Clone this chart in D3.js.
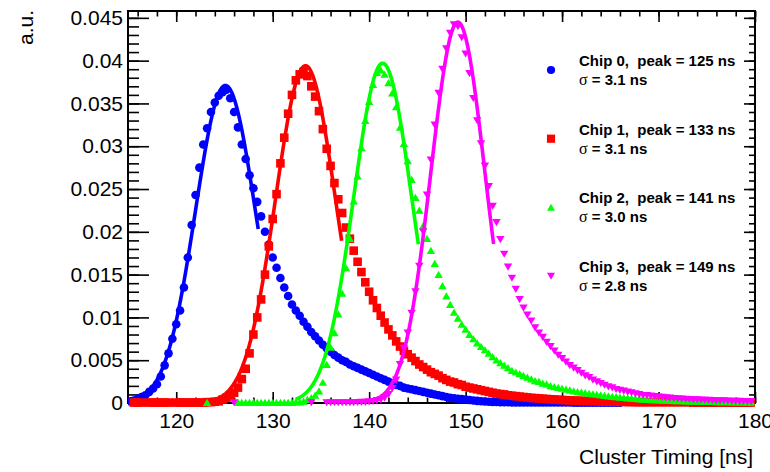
<!DOCTYPE html>
<html>
<head>
<meta charset="utf-8">
<script src="https://cdn.jsdelivr.net/npm/d3@7"></script>
<style>
  html, body { margin: 0; padding: 0; background: #fff; }
  svg { display: block; }
  text { font-family: "Liberation Sans", Arial, Helvetica, sans-serif; }
</style>
</head>
<body>
<svg id="chart" width="770" height="472"></svg>
<script>
// Histogram binning (ns): bin i is centred at binStart + (i + 0.5) * binWidth
const binStart = 115;
const binWidth = 0.4;

// Normalised cluster-timing distributions, one per chip (a.u.)
const chip0 = [
  0.0002, 0.0003, 0.0005, 0.0007, 0.0009, 0.0013, 0.0017, 0.0022, 0.0031, 0.0044,
  0.0058, 0.0075, 0.0092, 0.0108, 0.0135, 0.0170, 0.0208, 0.0243, 0.0275, 0.0302,
  0.0321, 0.0340, 0.0351, 0.0359, 0.0363, 0.0366, 0.0356, 0.0340, 0.0322, 0.0302,
  0.0285, 0.0266, 0.0251, 0.0235, 0.0218, 0.0200, 0.0185, 0.0170, 0.0158, 0.0146,
  0.0135, 0.0125, 0.0115, 0.0108, 0.0102, 0.0095, 0.0089, 0.0083, 0.0078, 0.0073,
  0.0068, 0.0064, 0.0060, 0.0056, 0.0053, 0.0050, 0.0048, 0.0045, 0.0043, 0.0041,
  0.0039, 0.0037, 0.0035, 0.0033, 0.0031, 0.0029, 0.0027, 0.0025, 0.0023, 0.0021,
  0.0020, 0.0018, 0.0017, 0.0016, 0.0015, 0.0014, 0.0013, 0.0012, 0.0011, 0.0010,
  0.0009, 0.0008, 0.0007, 0.0006, 0.00055, 0.0005, 0.00045, 0.0004, 0.00035, 0.0003,
  0.00025, 0.0002, 0.00018, 0.00015, 0.00013, 0.00011, 0.0001, 0.00009, 0.00008, 0.00007,
  0.00006, 0.00005, 0.00005, 0.00005, 0.00005, 0.00005, 0.00005, 0.00005, 0.00005, 0.00005,
  0.00005, 0.00005, 0.00005, 0.00005, 0.00005, 0.00004, 0.00004, 0.00004, 0.00004, 0.00004,
  0.00003, 0.00003, 0.00003, 0.00003, 0.00003, 0.00003, 0.00003, 0.00003, 0, 0,
  0, 0, 0, 0, 0, 0, 0, 0, 0, 0,
  0, 0, 0, 0, 0, 0, 0, 0, 0, 0,
  0, 0, 0, 0, 0, 0, 0, 0, 0, 0,
  0, 0
];
const chip1 = [
  0, 0.00005, 0.00005, 0.00005, 0, 0.00005, 0.00005, 0.00005, 0.00005, 0.00005,
  0.00005, 0, 0.00005, 0.00005, 0.00005, 0.00005, 0.00005, 0.00005, 0.00005, 0.00005,
  0.0001, 0.0001, 0.00015, 0.0002, 0.0004, 0.0006, 0.0008, 0.0012, 0.0018, 0.0028,
  0.0040, 0.0058, 0.0080, 0.0100, 0.0121, 0.0150, 0.0183, 0.0215, 0.0244, 0.0280,
  0.0310, 0.0338, 0.0360, 0.0377, 0.0384, 0.0387, 0.0382, 0.0370, 0.0358, 0.0341,
  0.0320, 0.0297, 0.0277, 0.0257, 0.0238, 0.0222, 0.0205, 0.0192, 0.0178, 0.0165,
  0.0153, 0.0141, 0.0130, 0.0120, 0.0111, 0.0102, 0.0094, 0.0086, 0.0079, 0.0072,
  0.0066, 0.0061, 0.0057, 0.0053, 0.0049, 0.0045, 0.0042, 0.0039, 0.0036, 0.0034,
  0.0032, 0.0029, 0.0027, 0.0025, 0.0024, 0.0022, 0.0021, 0.0019, 0.0018, 0.0017,
  0.0016, 0.0015, 0.0014, 0.0013, 0.0012, 0.0011, 0.00105, 0.0010, 0.0009, 0.00085,
  0.0008, 0.00075, 0.0007, 0.00065, 0.0006, 0.00057, 0.00054, 0.0005, 0.00047, 0.00044,
  0.00041, 0.00038, 0.00035, 0.00033, 0.00031, 0.00029, 0.00027, 0.00025, 0.00024, 0.00023,
  0.00022, 0.0002, 0.00019, 0.00018, 0.00017, 0.00016, 0.00015, 0.00014, 0.00013, 0.00012,
  0.00011, 0.0001, 0.0001, 0.0001, 0.0001, 0.0001, 0.0001, 0.0001, 0.0001, 0.0001,
  0.0001, 0.0001, 0.0001, 0.0001, 0.0001, 0.0001, 0.00005, 0.00005, 0.00005, 0.00005,
  0.00005, 0.00005, 0.00005, 0.00005, 0.00005, 0.00005, 0.00005, 0.00005, 0.00005, 0.00005,
  0.00005, 0.00005
];
const chip2 = [
  0, 0, 0, 0, 0, 0, 0, 0, 0, 0,
  0, 0, 0, 0, 0, 0, 0, 0, 0, 0,
  0.00005, 0, 0, 0, 0, 0, 0, 0, 0.00005, 0.00005,
  0.00005, 0.00005, 0.00005, 0.00005, 0.00005, 0.00005, 0.00005, 0.00005, 0.00005, 0.00005,
  0.00005, 0.00005, 0.00005, 0.0001, 0.0001, 0.0002, 0.0004, 0.0006, 0.0009, 0.0014,
  0.0024, 0.0045, 0.0065, 0.0082, 0.0104, 0.0128, 0.0158, 0.0192, 0.0236, 0.0265,
  0.0298, 0.0330, 0.0352, 0.0372, 0.0386, 0.0389, 0.0384, 0.0374, 0.0362, 0.0346,
  0.0322, 0.0303, 0.0283, 0.0261, 0.0240, 0.0225, 0.0207, 0.0192, 0.0178, 0.0163,
  0.0150, 0.0137, 0.0125, 0.0115, 0.0106, 0.0099, 0.0092, 0.0086, 0.0080, 0.0075,
  0.0070, 0.0066, 0.0062, 0.0058, 0.0054, 0.0050, 0.0047, 0.0044, 0.0041, 0.0038,
  0.0036, 0.0034, 0.0032, 0.0030, 0.0028, 0.0026, 0.0025, 0.0023, 0.0022, 0.0020,
  0.0019, 0.0018, 0.0017, 0.0016, 0.0015, 0.0014, 0.0013, 0.00125, 0.0012, 0.0011,
  0.00105, 0.0010, 0.00093, 0.00087, 0.00081, 0.00076, 0.00071, 0.00066, 0.00062, 0.00058,
  0.00054, 0.0005, 0.00047, 0.00044, 0.00041, 0.00038, 0.00036, 0.00034, 0.00032, 0.0003,
  0.00028, 0.00026, 0.00025, 0.00024, 0.00022, 0.00021, 0.0002, 0.00019, 0.00018, 0.00017,
  0.00016, 0.00015, 0.00014, 0.00013, 0.00013, 0.00012, 0.00011, 0.00011, 0.0001, 0.0001,
  0.00009, 0.00009
];
const chip3 = [
  0, 0, 0, 0, 0, 0, 0, 0, 0, 0,
  0, 0, 0, 0, 0, 0, 0, 0, 0, 0,
  0, 0, 0, 0, 0, 0, 0, 0.00005, 0, 0,
  0, 0, 0, 0, 0, 0, 0, 0, 0, 0,
  0, 0, 0, 0, 0, 0, 0, 0.00005, 0, 0,
  0, 0.00005, 0.00005, 0.00005, 0.00005, 0.00005, 0.00005, 0.00005, 0.00005, 0.00008,
  0.0001, 0.0001, 0.00015, 0.0002, 0.0003, 0.0004, 0.0006, 0.0010, 0.0017, 0.0027,
  0.0045, 0.0064, 0.0082, 0.0105, 0.0130, 0.0160, 0.0200, 0.0243, 0.0284, 0.0325,
  0.0362, 0.0390, 0.0414, 0.0432, 0.0442, 0.0440, 0.0427, 0.0408, 0.0385, 0.0356,
  0.0330, 0.0303, 0.0277, 0.0253, 0.0230, 0.0211, 0.0191, 0.0174, 0.0159, 0.0146,
  0.0133, 0.0121, 0.0111, 0.0103, 0.0096, 0.0088, 0.0082, 0.0077, 0.0071, 0.0066,
  0.0061, 0.0056, 0.0052, 0.0048, 0.0044, 0.0041, 0.0038, 0.0035, 0.0032, 0.0030,
  0.0027, 0.0025, 0.0023, 0.0021, 0.0019, 0.0018, 0.0016, 0.0015, 0.0014, 0.0013,
  0.0012, 0.0011, 0.0010, 0.0009, 0.00088, 0.00082, 0.00077, 0.00072, 0.00068, 0.00063,
  0.00059, 0.00055, 0.00052, 0.00049, 0.00046, 0.00043, 0.0004, 0.00038, 0.00036, 0.00034,
  0.00032, 0.0003, 0.00028, 0.00027, 0.00026, 0.00024, 0.00023, 0.00022, 0.00021, 0.0002,
  0.00019, 0.00018
];

// Gaussian fit results per chip: mean (ns), sigma (ns), amplitude (a.u.), fit window (ns)
const fitMean  = [125.1, 133.4, 141.4, 149.2];
const fitSigma = [3.1, 3.1, 3.0, 2.8];
const fitAmp   = [0.0371, 0.0394, 0.0397, 0.0445];
const fitLow   = [115.8, 124.1, 132.4, 140.8];
const fitHigh  = [128.5, 137.15, 145.1, 152.9];

const chipNames = ["Chip 0", "Chip 1", "Chip 2", "Chip 3"];
const chipColors = ["#0000ff", "#ff0000", "#00ff00", "#ff00ff"];
const chipMarkers = ["circle", "square", "triangleUp", "triangleDown"];

const xMajorTicks = [120, 130, 140, 150, 160, 170, 180];
const yMajorTicks = [0, 0.005, 0.01, 0.015, 0.02, 0.025, 0.03, 0.035, 0.04, 0.045];
const yTickLabels = ["0", "0.005", "0.01", "0.015", "0.02", "0.025", "0.03", "0.035", "0.04", "0.045"];
const xTitle = "Cluster Timing [ns]";
const yTitle = "a.u.";

// ---------------------------------------------------------------------------
const svg = d3.select("#chart");
const frame = { left: 128, right: 755, top: 11, bottom: 403 };

const x = d3.scaleLinear().domain([115, 180]).range([frame.left, frame.right]);
const y = d3.scaleLinear().domain([0, 0.0458]).range([frame.bottom, frame.top]);

const xMinor = d3.range(116, 180.01, 2);
const yMinor = d3.range(0, 46).map(k => k * 0.001);

function styleAxis(g) {
  g.select(".domain").remove();
  g.selectAll(".tick line").attr("stroke", "#000").attr("stroke-width", 1.6);
  g.selectAll(".tick text").attr("fill", "#000");
}

// bottom axis: minor + major ticks pointing inward, labelled
svg.append("g").attr("transform", `translate(0,${frame.bottom})`)
  .call(d3.axisBottom(x).tickValues(xMinor).tickSize(-5.5).tickFormat(""))
  .call(styleAxis);
svg.append("g").attr("transform", `translate(0,${frame.bottom})`)
  .call(d3.axisBottom(x).tickValues(xMajorTicks).tickSize(-11).tickPadding(10).tickFormat(d3.format("d")))
  .call(styleAxis)
  .call(g => g.selectAll(".tick text").attr("font-size", 21));

// top axis: ticks only
svg.append("g").attr("transform", `translate(0,${frame.top})`)
  .call(d3.axisTop(x).tickValues(xMinor).tickSize(-5.5).tickFormat(""))
  .call(styleAxis);
svg.append("g").attr("transform", `translate(0,${frame.top})`)
  .call(d3.axisTop(x).tickValues(xMajorTicks).tickSize(-11).tickFormat(""))
  .call(styleAxis);

// left axis: labelled
svg.append("g").attr("transform", `translate(${frame.left},0)`)
  .call(d3.axisLeft(y).tickValues(yMinor).tickSize(-11).tickFormat(""))
  .call(styleAxis);
svg.append("g").attr("transform", `translate(${frame.left},0)`)
  .call(d3.axisLeft(y).tickValues(yMajorTicks).tickSize(-21).tickPadding(5)
        .tickFormat((d, i) => yTickLabels[i]))
  .call(styleAxis)
  .call(g => g.selectAll(".tick text").attr("font-size", 21));

// right axis: ticks only
svg.append("g").attr("transform", `translate(${frame.right},0)`)
  .call(d3.axisRight(y).tickValues(yMinor).tickSize(-6).tickFormat(""))
  .call(styleAxis);
svg.append("g").attr("transform", `translate(${frame.right},0)`)
  .call(d3.axisRight(y).tickValues(yMajorTicks).tickSize(-11).tickFormat(""))
  .call(styleAxis);

// frame
svg.append("rect")
  .attr("x", frame.left).attr("y", frame.top)
  .attr("width", frame.right - frame.left).attr("height", frame.bottom - frame.top)
  .attr("fill", "none").attr("stroke", "#000").attr("stroke-width", 2);

// axis titles
svg.append("text")
  .attr("x", 753).attr("y", 464)
  .attr("text-anchor", "end").attr("font-size", 21).attr("fill", "#000")
  .text(xTitle);
svg.append("text")
  .attr("transform", "translate(33,10) rotate(-90)")
  .attr("text-anchor", "end").attr("font-size", 21).attr("fill", "#000")
  .text(yTitle);

// marker shapes
function markerPath(kind) {
  switch (kind) {
    case "circle": return "M4.3,0A4.3,4.3 0 1,1 -4.3,0A4.3,4.3 0 1,1 4.3,0Z";
    case "square": return "M-4.3,-4.3H4.3V4.3H-4.3Z";
    case "triangleUp": return "M0,-3.8L4.2,3.4L-4.2,3.4Z";
    case "triangleDown": return "M0,3.8L4.2,-3.4L-4.2,-3.4Z";
  }
}

const series = [chip0, chip1, chip2, chip3];
const clip = svg.append("clipPath").attr("id", "plotclip")
  .append("rect").attr("x", frame.left).attr("y", 0)
  .attr("width", frame.right - frame.left).attr("height", 472);

const plot = svg.append("g").attr("clip-path", "url(#plotclip)");

const fitLine = d3.line().x(d => x(d[0])).y(d => y(d[1]));

series.forEach((vals, k) => {
  const pts = vals.map((v, i) => [binStart + (i + 0.5) * binWidth, v]).filter(d => d[1] > 0);
  plot.append("g").selectAll("path")
    .data(pts).join("path")
    .attr("d", markerPath(chipMarkers[k]))
    .attr("transform", d => `translate(${x(d[0])},${y(d[1])})`)
    .attr("fill", chipColors[k]);

  const n = 200;
  const curve = d3.range(n + 1).map(j => {
    const t = fitLow[k] + (fitHigh[k] - fitLow[k]) * j / n;
    const z = (t - fitMean[k]) / fitSigma[k];
    return [t, fitAmp[k] * Math.exp(-0.5 * z * z)];
  });
  plot.append("path")
    .datum(curve)
    .attr("d", fitLine)
    .attr("fill", "none")
    .attr("stroke", chipColors[k])
    .attr("stroke-width", 3.6)
    .attr("stroke-linejoin", "round");
});

// legend
const legend = svg.append("g");
chipNames.forEach((name, k) => {
  const base = 66 + k * 68.7;
  legend.append("path")
    .attr("d", markerPath(chipMarkers[k]))
    .attr("transform", `translate(551,${base + 4}) scale(0.95)`)
    .attr("fill", chipColors[k]);
  legend.append("text")
    .attr("x", 579).attr("y", base)
    .attr("font-size", 15).attr("font-weight", "bold")
    .style("white-space", "pre")
    .text(`${name},  peak = ${Math.round(fitMean[k])} ns`);
  const t2 = legend.append("text")
    .attr("x", 579).attr("y", base + 19)
    .attr("font-size", 15).attr("font-weight", "bold")
    .style("white-space", "pre");
  t2.append("tspan")
    .attr("font-family", "'Liberation Serif', 'Times New Roman', serif")
    .attr("font-weight", "normal").attr("font-size", 16)
    .text("\u03c3");
  t2.append("tspan").text(` = ${fitSigma[k].toFixed(1)} ns`);
});
</script>
</body>
</html>
